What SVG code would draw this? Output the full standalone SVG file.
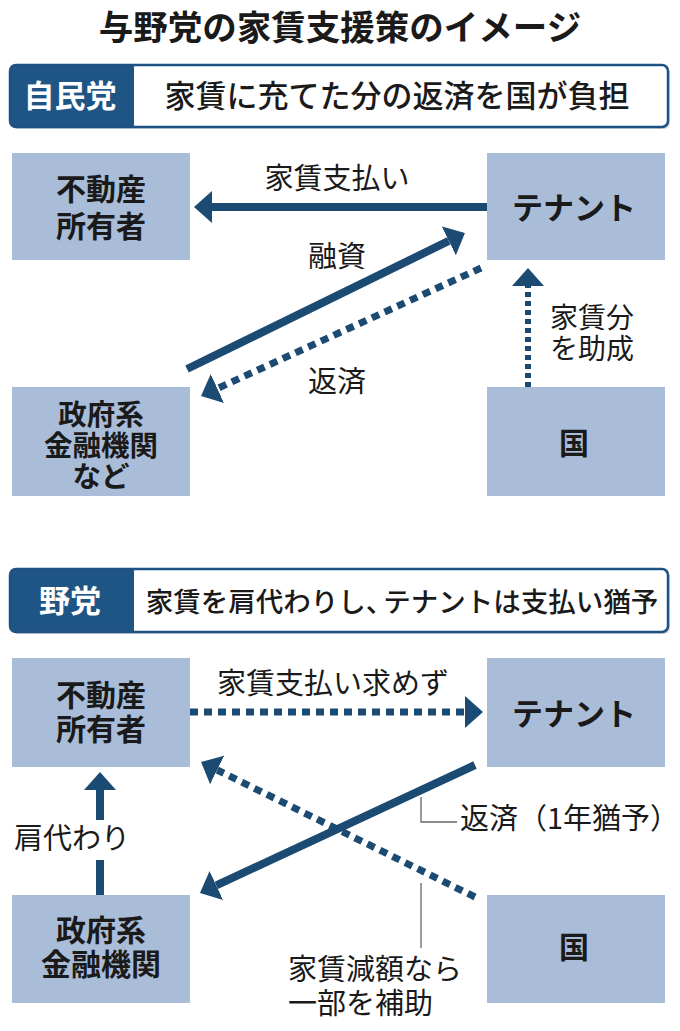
<svg xmlns="http://www.w3.org/2000/svg" width="680" height="1031" viewBox="0 0 680 1031">
<style>
text{font-family:"Noto Sans CJK JP","Noto Sans",sans-serif;fill:#1a1a1a}
.title{font-size:34.5px;font-weight:bold;text-anchor:middle}
.tag{font-size:31px;font-weight:bold;fill:#ffffff;text-anchor:middle}
.head{font-size:31px;text-anchor:middle;font-weight:500}
.node rect{fill:#a9bdd8}
.node text{font-size:30px;font-weight:bold;text-anchor:middle}
.lbl{font-size:29px;text-anchor:middle}
.lbls{font-size:29px;text-anchor:start}
.solid{stroke:#1b4a73;stroke-width:8;fill:none;marker-end:url(#ah)}
.dot{stroke:#1b4a73;stroke-width:7;fill:none;stroke-dasharray:8 6;marker-end:url(#ah)}
.dotv{stroke:#1b4a73;stroke-width:6;fill:none;stroke-dasharray:5 4;marker-end:url(#ah)}
.plain{stroke:#1b4a73;stroke-width:8;fill:none}
.leader{stroke:#666;stroke-width:1.3;fill:none}
.frame{fill:none;stroke:#1e5282;stroke-width:2.5}
.dark{fill:#1f5585}
</style>
<defs>
<marker id="ah" markerUnits="userSpaceOnUse" viewBox="0 -17 18 34" refX="0" refY="0" markerWidth="18" markerHeight="34" orient="auto">
<path d="M0,-16 L18,0 L0,16 z" fill="#1b4a73"/>
</marker>
</defs>

<text class="title" x="340" y="40">与野党の家賃支援策のイメージ</text>

<g id="header1">
<rect x="12" y="67" width="658" height="62" rx="6" fill="#d8d8d8"/>
<rect x="10" y="65" width="658" height="62" rx="6" fill="#ffffff"/>
<rect class="dark" x="10" y="65" width="124" height="62" rx="6"/>
<rect class="dark" x="120" y="65" width="14" height="62"/>
<rect class="frame" x="10" y="65" width="658" height="62" rx="6"/>
<text class="tag" x="70" y="107">自民党</text>
<text class="head" x="397" y="107">家賃に充てた分の返済を国が負担</text>
</g>

<g id="s1-owner" class="node"><rect x="12" y="153" width="178" height="107"/><text x="101" y="200">不動産</text><text x="101" y="237">所有者</text></g>
<g id="s1-tenant" class="node"><rect x="487" y="153" width="178" height="107"/><text x="574" y="219" style="font-size:31px">テナント</text></g>
<g id="s1-bank" class="node"><rect x="12" y="387" width="178" height="109"/><text x="101" y="425" style="font-size:28.5px">政府系</text><text x="101" y="456" style="font-size:28.5px">金融機関</text><text x="101" y="487" style="font-size:28.5px">など</text></g>
<g id="s1-gov" class="node"><rect x="487" y="387" width="178" height="109"/><text x="574" y="454">国</text></g>

<g id="s1-connectors">
<line class="solid" x1="487" y1="207" x2="212" y2="207"/>
<line class="solid" x1="187" y1="369" x2="448.8" y2="240.9"/>
<line class="dot" x1="481" y1="268" x2="217.4" y2="388.5"/>
<line class="dotv" x1="528" y1="387" x2="528" y2="286"/>
<text class="lbl" x="337" y="189">家賃支払い</text>
<text class="lbl" x="337" y="267">融資</text>
<text class="lbl" x="337" y="392">返済</text>
<text class="lbls" x="550" y="328" style="font-size:28px">家賃分</text>
<text class="lbls" x="550" y="359" style="font-size:28px">を助成</text>
</g>

<g id="header2">
<rect x="12" y="571" width="658" height="63" rx="6" fill="#d8d8d8"/>
<rect x="10" y="569" width="658" height="63" rx="6" fill="#ffffff"/>
<rect class="dark" x="10" y="569" width="124" height="63" rx="6"/>
<rect class="dark" x="120" y="569" width="14" height="63"/>
<rect class="frame" x="10" y="569" width="658" height="63" rx="6"/>
<text class="tag" x="70" y="612">野党</text>
<text class="head" x="402" y="612" style="font-size:27.5px">家賃を肩代わりし、<tspan dx="-10">テナントは支払い猶予</tspan></text>
</g>

<g id="s2-owner" class="node"><rect x="12" y="658" width="178" height="109"/><text x="101" y="706">不動産</text><text x="101" y="740">所有者</text></g>
<g id="s2-tenant" class="node"><rect x="487" y="658" width="178" height="109"/><text x="574" y="725" style="font-size:31px">テナント</text></g>
<g id="s2-bank" class="node"><rect x="12" y="895" width="178" height="108"/><text x="101" y="941">政府系</text><text x="101" y="975">金融機関</text></g>
<g id="s2-gov" class="node"><rect x="487" y="895" width="178" height="108"/><text x="574" y="958">国</text></g>

<g id="s2-connectors">
<line class="dot" x1="190" y1="712" x2="465" y2="712"/>
<line class="solid" x1="475" y1="765" x2="216.3" y2="885.4"/>
<line class="dot" x1="475" y1="897" x2="217.2" y2="770"/>
<line class="plain" x1="100" y1="895" x2="100" y2="860"/>
<line class="solid" x1="100" y1="820" x2="100" y2="790"/>
<path class="leader" d="M421,797 V822 H457"/>
<path class="leader" d="M421,883 V948"/>
<text class="lbl" x="333" y="694">家賃支払い求めず</text>
<text class="lbl" x="72" y="849">肩代わり</text>
<text class="lbls" x="460" y="829">返済（1年猶予）</text>
<text class="lbls" x="288" y="980">家賃減額なら</text>
<text class="lbls" x="288" y="1014">一部を補助</text>
</g>
</svg>
